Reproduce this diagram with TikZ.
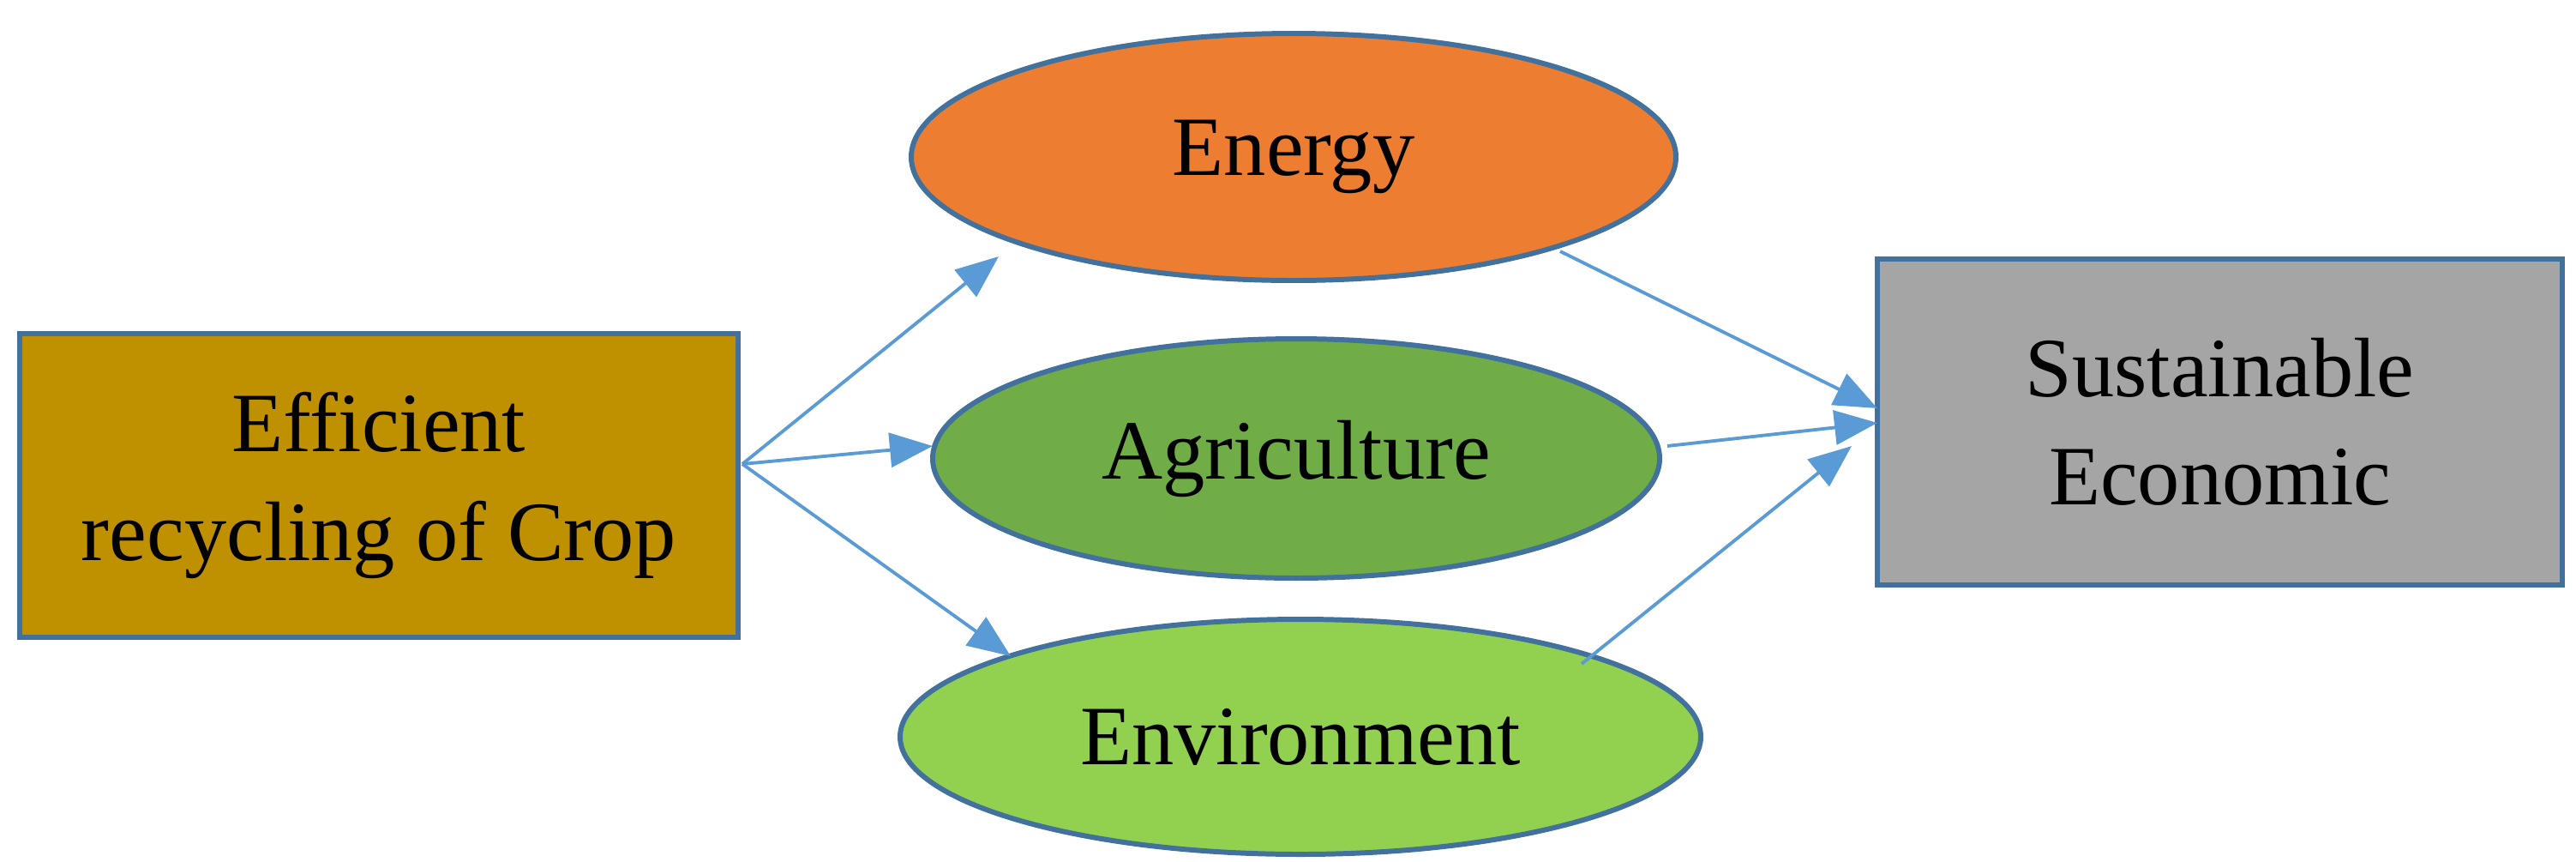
\documentclass[tikz,border=0pt]{standalone}
\usepackage{fontspec}
\setmainfont{Liberation Serif}
\usetikzlibrary{arrows.meta,shapes.geometric}
\definecolor{bord}{HTML}{41719C}
\definecolor{arr}{HTML}{5B9BD5}
\definecolor{cL}{HTML}{BF9000}
\definecolor{cE}{HTML}{ED7D31}
\definecolor{cA}{HTML}{70AD47}
\definecolor{cV}{HTML}{92D050}
\definecolor{cR}{HTML}{A5A5A5}
\tikzset{
 shp/.style={draw=bord,line width=1.7pt,font=\fontsize{28}{36}\selectfont,align=center,inner sep=0pt},
 conn/.style={draw=arr,line width=1.1pt,-{Triangle[length=0.5cm,width=0.4cm]}}
}
\begin{document}
\begin{tikzpicture}[x=1cm,y=-1cm]
\useasboundingbox (0,0) rectangle (30.05,10.04);
\node[shp,fill=cL,minimum width=8.38cm,minimum height=3.54cm] (L) at (4.42,5.66) {Efficient\\recycling of Crop};
\node[shp,ellipse,fill=cE,minimum width=8.92cm,minimum height=2.88cm] (E) at (15.09,1.83) {Energy};
\node[shp,ellipse,fill=cA,minimum width=8.48cm,minimum height=2.79cm] (A) at (15.12,5.345) {Agriculture};
\node[shp,ellipse,fill=cV,minimum width=9.34cm,minimum height=2.74cm] (V) at (15.17,8.59) {Environment};
\node[shp,fill=cR,minimum width=7.99cm,minimum height=3.8cm] (R) at (25.895,4.92) {Sustainable\\Economic};
\coordinate (s) at (8.66,5.41);
\coordinate (e1) at (18.2,2.93);
\coordinate (a1) at (19.45,5.2);
\coordinate (v1) at (18.45,7.74);
\draw[conn] (s) -- (11.65,2.99);
\draw[conn] (s) -- (10.88,5.2);
\draw[conn] (s) -- (11.79,7.65);
\draw[conn] (e1) -- (21.9,4.76);
\draw[conn] (a1) -- (21.9,4.93);
\draw[conn] (v1) -- (21.6,5.2);
\end{tikzpicture}
\end{document}
